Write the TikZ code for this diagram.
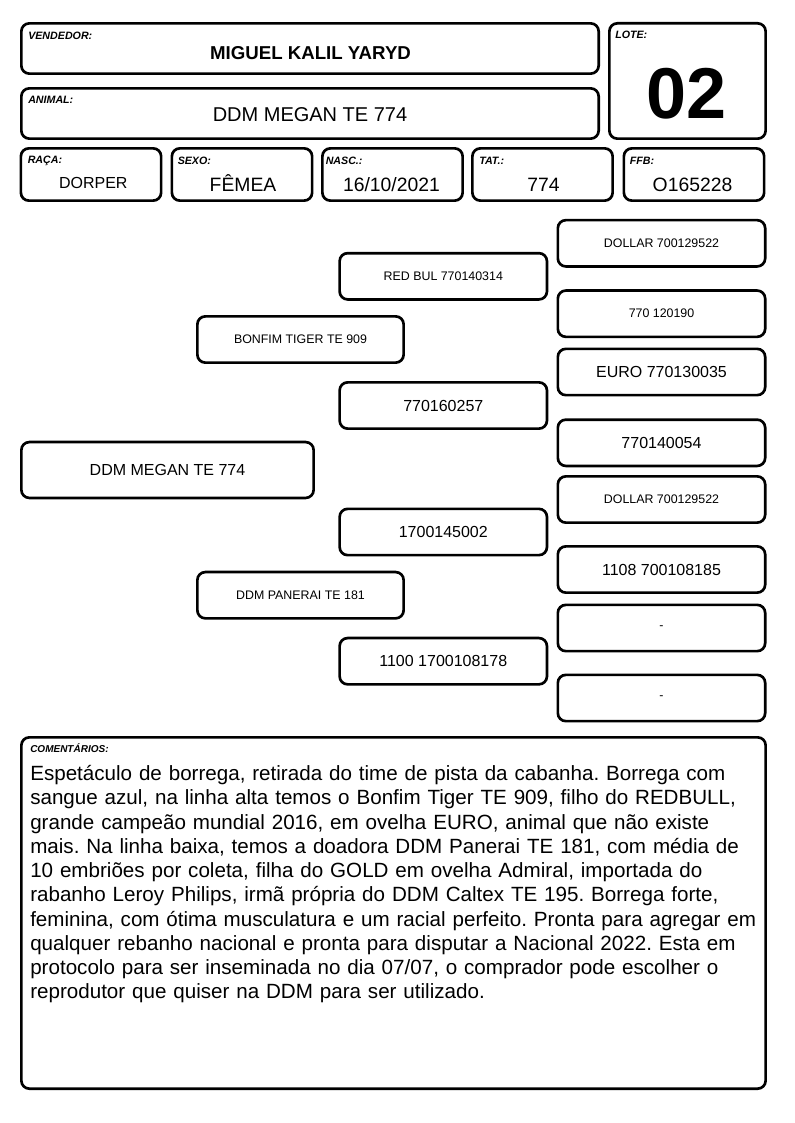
\documentclass[tikz,border=0pt]{standalone}
\usepackage{fontspec}
\setmainfont{Liberation Sans}
\frenchspacing
\begin{document}
\begin{tikzpicture}[x=0.75pt,y=-0.75pt]
\tikzset{caixa/.style={draw=black,line width=2pt,rounded corners=6pt,inner sep=0pt},
rotulo/.style={anchor=base west,inner sep=0pt,font=\fontsize{8}{9}\selectfont\bfseries\itshape},
valor/.style={anchor=base,inner sep=0pt,font=\fontsize{14.5}{16}\selectfont},
campo/.style={caixa,minimum width=105.2pt,minimum height=39.2pt},
gen/.style={caixa,minimum width=155.5pt,minimum height=34.7pt,font=\fontsize{9.3}{11}\selectfont},
genb/.style={gen,font=\fontsize{12}{14}\selectfont}}
\useasboundingbox (0,0) rectangle (794,1123);
\node [caixa,minimum width=433pt,minimum height=37.7pt] (vend) at (310,48.5) {};
\node [rotulo] (vendr) at (28,39.3) {VENDEDOR:};
\node [valor,font=\fontsize{14}{16}\selectfont\bfseries] (vendv) at (310.5,60) {MIGUEL KALIL YARYD};
\node [caixa,minimum width=433pt,minimum height=37.7pt] (anim) at (310,113.5) {};
\node [rotulo] (animr) at (28,103.5) {ANIMAL:};
\node [valor,font=\fontsize{15}{17}\selectfont] (animv) at (310,121.7) {DDM MEGAN TE 774};
\node [caixa,minimum width=117.2pt,minimum height=86.5pt] (lote) at (687.5,81) {};
\node [rotulo] (loter) at (615,39) {LOTE:};
\node [valor,font=\fontsize{54}{60}\selectfont\bfseries] (lotev) at (687,118.3) {02};
\node [campo] (raca) at (91,174.5) {};
\node [rotulo] (racar) at (27.5,163.5) {RAÇA:};
\node [valor,font=\fontsize{12}{14}\selectfont] (racav) at (93.3,188.3) {DORPER};
\node [campo] (sexo) at (242,174.5) {};
\node [rotulo] (sexor) at (177.5,164.5) {SEXO:};
\node [valor] (sexov) at (243,191.7) {FÊMEA};
\node [campo] (nasc) at (392.5,174.5) {};
\node [rotulo] (nascr) at (325.5,164.5) {NASC.:};
\node [valor] (nascv) at (391.5,191.7) {16/10/2021};
\node [campo] (tat) at (542.5,174.5) {};
\node [rotulo] (tatr) at (479,164.5) {TAT.:};
\node [valor] (tatv) at (543.5,191.7) {774};
\node [campo] (ffb) at (694,174.5) {};
\node [rotulo] (ffbr) at (629.5,164.5) {FFB:};
\node [valor] (ffbv) at (692.5,191.7) {O165228};
\node [gen] (avo1) at (661.5,243.3) {DOLLAR 700129522};
\node [gen] (avo2) at (661.5,313.7) {770 120190};
\node [genb] (avo3) at (661.5,372) {EURO 770130035};
\node [genb] (avo4) at (661.5,442.8) {770140054};
\node [gen] (avo5) at (661.5,499.5) {DOLLAR 700129522};
\node [genb] (avo6) at (661.5,569.5) {1108 700108185};
\node [gen] (avo7) at (661.5,628) {-};
\node [gen] (avo8) at (661.5,698) {-};
\node [gen] (pai1) at (443.3,276.3) {RED BUL 770140314};
\node [genb] (pai2) at (443.3,405.5) {770160257};
\node [genb] (pai3) at (443.3,532) {1700145002};
\node [genb] (pai4) at (443.3,661.2) {1100 1700108178};
\node [gen,minimum width=154.7pt] (pai) at (300.5,339.5) {BONFIM TIGER TE 909};
\node [gen,minimum width=154.7pt] (mae) at (300.5,595.2) {DDM PANERAI TE 181};
\node [genb,minimum width=219.2pt,minimum height=41.9pt] (filha) at (167.5,470) {DDM MEGAN TE 774};
\node [caixa,minimum width=558.2pt,minimum height=263.5pt] (coment) at (393.5,913) {};
\node [rotulo,font=\fontsize{7.5}{9}\selectfont\bfseries\itshape] (comentr) at (30,752.5) {COMENTÁRIOS:};
\node [anchor=base west,inner sep=0pt,text width=555pt,align=left,font=\fontsize{15.45}{18.2}\selectfont] (comentv) at (30,780.5)
{Espetáculo de borrega, retirada do time de pista da cabanha. Borrega com\\
sangue azul, na linha alta temos o Bonfim Tiger TE 909, filho do REDBULL,\\
grande campeão mundial 2016, em ovelha EURO, animal que não existe\\
mais. Na linha baixa, temos a doadora DDM Panerai TE 181, com média de\\
10 embriões por coleta, filha do GOLD em ovelha Admiral, importada do\\
rabanho Leroy Philips, irmã própria do DDM Caltex TE 195. Borrega forte,\\
feminina, com ótima musculatura e um racial perfeito. Pronta para agregar em\\
qualquer rebanho nacional e pronta para disputar a Nacional 2022. Esta em\\
protocolo para ser inseminada no dia 07/07, o comprador pode escolher o\\
reprodutor que quiser na DDM para ser utilizado.};
\end{tikzpicture}
\end{document}
